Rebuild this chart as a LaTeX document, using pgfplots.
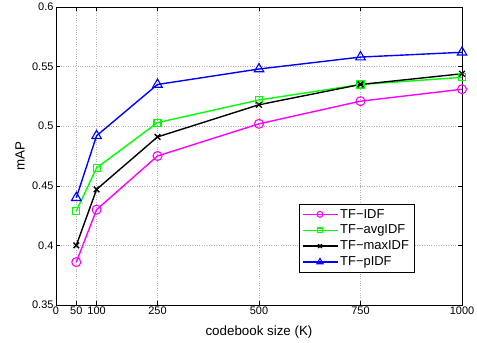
\documentclass[border=0pt]{standalone}
\usepackage{pgfplots}
\pgfplotsset{compat=1.18}
\usepackage{fontspec}
\setmainfont{Liberation Sans}
\definecolor{mmag}{RGB}{255,0,255}
\definecolor{mgreen}{RGB}{0,255,0}
\definecolor{mblue}{RGB}{0,0,255}
\begin{document}
\begin{tikzpicture}
\begin{axis}[
  name=ax,
  scale only axis,
  width=406bp, height=298bp,
  xmin=0, xmax=1000, ymin=0.35, ymax=0.6,
  xtick={0,50,100,250,500,750,1000},
  ytick={0.35,0.4,0.45,0.5,0.55,0.6},
  yticklabels={0.35,0.4,0.45,0.5,0.55,0.6},
  xticklabels={0,50,100,250,500,750,1000},
  tick align=inside,
  tick style={black, thin},
  major tick length=4pt,
  grid=major,
  grid style={dotted, gray!60, thin},
  axis line style={black, line width=0.8pt},
  tick label style={font=\fontsize{11}{12}\selectfont},
  xticklabel style={yshift=2pt},
  yticklabel style={xshift=1pt},
  every axis x label/.style={at={(axis description cs:0.5,0)}, anchor=center, yshift=-26.7bp, font=\fontsize{13.4}{15}\selectfont},
  every axis y label/.style={at={(axis description cs:0,0.5)}, xshift=-36bp, anchor=center, rotate=90, font=\fontsize{13.4}{15}\selectfont},
  xlabel={codebook size (K)},
  ylabel={mAP},
  legend style={at={(0.882,0.339)}, anchor=north east, font=\fontsize{13}{14}\selectfont, draw=black, thin, row sep=1.5pt, inner xsep=3pt, inner ysep=3pt},
  legend cell align=left,
  every axis plot/.append style={line width=1.4pt, legend image code/.code={\draw[mark repeat=2,mark phase=2,##1,every mark/.append style={scale=0.65}] plot coordinates {(0bp,0bp) (17.5bp,0bp) (35bp,0bp)};}},
]
\addplot[mmag, mark=o, mark size=4.5pt, mark options={line width=1.1pt}] coordinates {(50,0.386) (100,0.430) (250,0.475) (500,0.502) (750,0.521) (1000,0.531)};
\addlegendentry{TF−IDF}
\addplot[mgreen, mark=square, mark size=3.5pt, mark options={line width=1.1pt}] coordinates {(50,0.429) (100,0.465) (250,0.503) (500,0.522) (750,0.535) (1000,0.541)};
\addlegendentry{TF−avgIDF}
\addplot[black, mark=x, mark size=4pt, mark options={line width=1.4pt}] coordinates {(50,0.400) (100,0.447) (250,0.491) (500,0.518) (750,0.535) (1000,0.544)};
\addlegendentry{TF−maxIDF}
\addplot[mblue, mark=triangle, mark size=5.5pt, mark options={line width=1.1pt}] coordinates {(50,0.440) (100,0.492) (250,0.535) (500,0.548) (750,0.558) (1000,0.562)};
\addlegendentry{TF−pIDF}
\end{axis}
\pgfresetboundingbox
\path[use as bounding box] ([xshift=-56bp,yshift=-38bp]ax.south west) rectangle ([xshift=15bp,yshift=7bp]ax.north east);
\end{tikzpicture}
\end{document}
